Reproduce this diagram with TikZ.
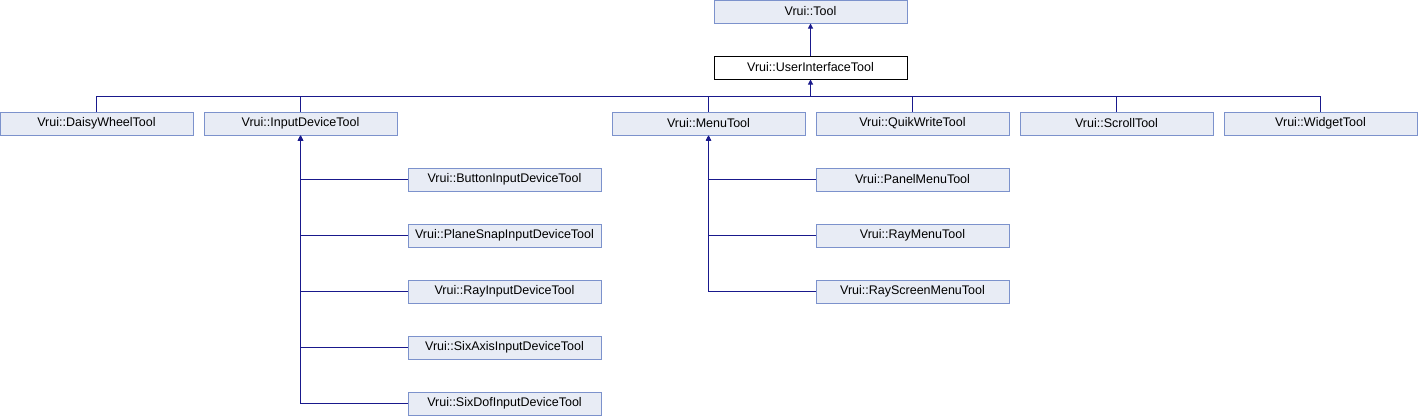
\documentclass[tikz,border=0pt]{standalone}
\usepackage{fontspec}
\setmainfont{Liberation Sans}
\usetikzlibrary{arrows.meta}
\definecolor{boxfill}{RGB}{232,236,245}
\definecolor{boxline}{RGB}{124,146,204}
\definecolor{edgecol}{RGB}{25,25,140}
\begin{document}
\begin{tikzpicture}[x=1pt,y=-1pt,
  cls/.style={draw=boxline,fill=boxfill,line width=1pt,minimum width=193pt,minimum height=23pt,inner sep=0pt,font=\fontsize{12.5}{14}\selectfont},
  cur/.style={cls,draw=black,fill=white},
  edge/.style={draw=edgecol,line width=1pt},
  inh/.style={edge,-{Triangle[width=5pt,length=5pt]}}]
\useasboundingbox (0,0) rectangle (1418,416);
\node[cls] (tool) at (810.5,11.5) {Vrui::Tool};
\node[cur] (ui) at (810.5,67.5) {Vrui::UserInterfaceTool};
\node[cls] (daisy) at (96.5,123.5) {Vrui::DaisyWheelTool};
\node[cls] (input) at (300.5,123.5) {Vrui::InputDeviceTool};
\node[cls] (menu) at (708.5,123.5) {Vrui::MenuTool};
\node[cls] (quik) at (912.5,123.5) {Vrui::QuikWriteTool};
\node[cls] (scroll) at (1116.5,123.5) {Vrui::ScrollTool};
\node[cls] (widget) at (1320.5,123.5) {Vrui::WidgetTool};
\node[cls] (button) at (504.5,179.5) {Vrui::ButtonInputDeviceTool};
\node[cls] (plane) at (504.5,235.5) {Vrui::PlaneSnapInputDeviceTool};
\node[cls] (ray) at (504.5,291.5) {Vrui::RayInputDeviceTool};
\node[cls] (sixaxis) at (504.5,347.5) {Vrui::SixAxisInputDeviceTool};
\node[cls] (sixdof) at (504.5,403.5) {Vrui::SixDofInputDeviceTool};
\node[cls] (panel) at (912.5,179.5) {Vrui::PanelMenuTool};
\node[cls] (raymenu) at (912.5,235.5) {Vrui::RayMenuTool};
\node[cls] (rayscreen) at (912.5,291.5) {Vrui::RayScreenMenuTool};
\coordinate (bus) at (810.5,96);
\draw[inh] (ui.north) -- (tool.south);
\draw[inh] (bus) -- (ui.south);
\foreach \n in {daisy,input,menu,quik,scroll,widget}
  \draw[edge] (\n.north) |- (bus);
\foreach \n in {button,plane,ray,sixaxis,sixdof}
  \draw[inh] (\n.west) -| (input.south);
\foreach \n in {panel,raymenu,rayscreen}
  \draw[inh] (\n.west) -| (menu.south);
\end{tikzpicture}
\end{document}
